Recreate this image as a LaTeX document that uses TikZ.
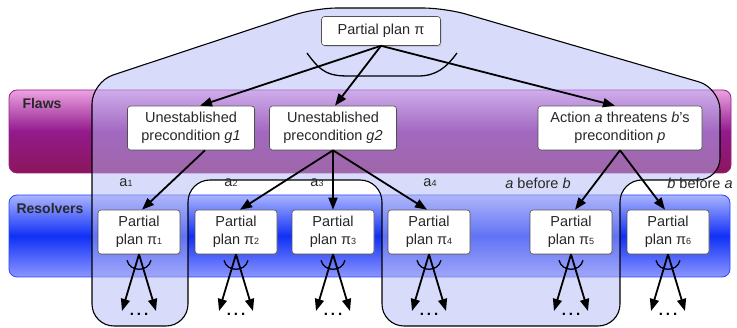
\documentclass[tikz,border=0pt]{standalone}
\usepackage{fontspec}
\setmainfont{Liberation Sans}
\usetikzlibrary{arrows.meta,shadows}
\definecolor{flaw top}{RGB}{236, 162, 226}
\definecolor{flaw mid}{RGB}{146, 26, 140}
\definecolor{flaw bottom}{RGB}{140, 22, 92}
\definecolor{flaw edge}{RGB}{150, 30, 140}
\definecolor{res top}{RGB}{170, 180, 255}
\definecolor{res mid}{RGB}{16, 48, 246}
\definecolor{res bottom}{RGB}{140, 150, 255}
\definecolor{res edge}{RGB}{40, 70, 255}
\definecolor{lavender}{RGB}{179, 183, 245}
\definecolor{box text}{RGB}{40, 40, 40}
\definecolor{box edge}{RGB}{80, 80, 80}
\newcommand{\idx}[1]{{\fontsize{9}{9}\selectfont #1}}

\begin{document}
\begin{tikzpicture}[
        x=1pt, y=-1pt,
        font=\fontsize{14.5}{18}\selectfont,
        band/.style={rounded corners=8pt, line width=0.8pt},
        bandname/.style={font=\fontsize{14}{16}\selectfont\bfseries, text=box text},
        plan/.style={
            draw=box edge, fill=white, line width=0.6pt,
            rounded corners=3pt, text=box text, align=center,
            drop shadow={opacity=0.25, shadow xshift=1pt, shadow yshift=-1.5pt}
        },
        flaw/.style={plan, minimum width=127pt, minimum height=44pt},
        resolver/.style={plan, minimum width=82pt, minimum height=44pt},
        link/.style={-{Triangle[length=12pt,width=9pt]}, line width=1.8pt},
        lbl/.style={text=box text},
        andarc/.style={line width=1.3pt}
    ]
    \useasboundingbox (0,0) rectangle (737,328);

    % the two bands
    \draw[band, draw=flaw edge, top color=flaw top, bottom color=flaw bottom, middle color=flaw mid]
        (9,90) rectangle (731,173);
    \draw[band, draw=res edge, top color=res top, bottom color=res bottom, middle color=res mid]
        (9,195) rectangle (730,277);
    \node[bandname] (flaws) at (42,104) {Flaws};
    \node[bandname] (resolvers) at (50,208) {Resolvers};

    % search space
    \draw[fill=lavender, fill opacity=0.5, rounded corners=22pt, line width=1.1pt]
        (92,200) -- (92,82) -- (315,8) -- (445,8) -- (720,88) -- (720,180)
        -- (620,180) -- (620,326) -- (382,326) -- (382,180) -- (188,180)
        -- (188,326) -- (92,326) -- cycle;

    \draw[andarc] (307,53) .. controls (322,74) and (330,76) .. (350,76)
        -- (418,76) .. controls (436,76) and (446,68) .. (457,53);

    \node[plan, minimum width=119pt, minimum height=29pt] (pi) at (381,31) {Partial plan π};
    \node[flaw] (g1) at (191,128) {Unestablished\\precondition \textit{g1}};
    \node[flaw] (g2) at (333,128) {Unestablished\\precondition \textit{g2}};
    \node[flaw, minimum width=164pt] (thr) at (620,128) {Action \textit{a} threatens \textit{b}'s\\precondition \textit{p}};

    \draw[link] (pi.south) -- ([xshift=9pt]g1.north);
    \draw[link] (pi.south) -- ([xshift=2pt]g2.north);
    \draw[link] (pi.south) -- ([xshift=-5pt]thr.north);

    \foreach \i/\x in {1/139,2/236,3/333,4/429,5/571,6/668} {
        \node[resolver] (p\i) at (\x,232) {Partial\\plan π\idx{\i}};
        \node[font=\fontsize{15}{15}\selectfont\bfseries] (d\i) at (\x,314) {.\hspace{3pt}.\hspace{3pt}.};
        \coordinate (l\i) at (\x-17,311);
        \coordinate (r\i) at (\x+17,311);
        \draw[link] (p\i.south) -- (l\i);
        \draw[link] (p\i.south) -- (r\i);
        \draw[andarc] ([shift={(-12,6)}]p\i.south) .. controls ([shift={(-9,18)}]p\i.south)
            and ([shift={(9,18)}]p\i.south) .. ([shift={(12,6)}]p\i.south);
    }

    \draw[link] ([xshift=14pt]g1.south) -- ([xshift=3pt]p1.north);
    \draw[link] (g2.south) -- ([xshift=4pt]p2.north);
    \draw[link] (g2.south) -- (p3.north);
    \draw[link] (g2.south) -- ([xshift=-2pt]p4.north);
    \draw[link] (thr.south) -- ([xshift=4pt]p5.north);
    \draw[link] (thr.south) -- ([xshift=-3pt]p6.north);

    % labels of the resolvers
    \node[lbl] (a1) at (126,183) {a\idx{1}};
    \node[lbl] (a2) at (231,183) {a\idx{2}};
    \node[lbl] (a3) at (317,183) {a\idx{3}};
    \node[lbl] (a4) at (430,183) {a\idx{4}};
    \node[lbl] (ab) at (538,183) {\textit{a} before \textit{b}};
    \node[lbl] (ba) at (700,183) {\textit{b} before \textit{a}};
\end{tikzpicture}
\end{document}
